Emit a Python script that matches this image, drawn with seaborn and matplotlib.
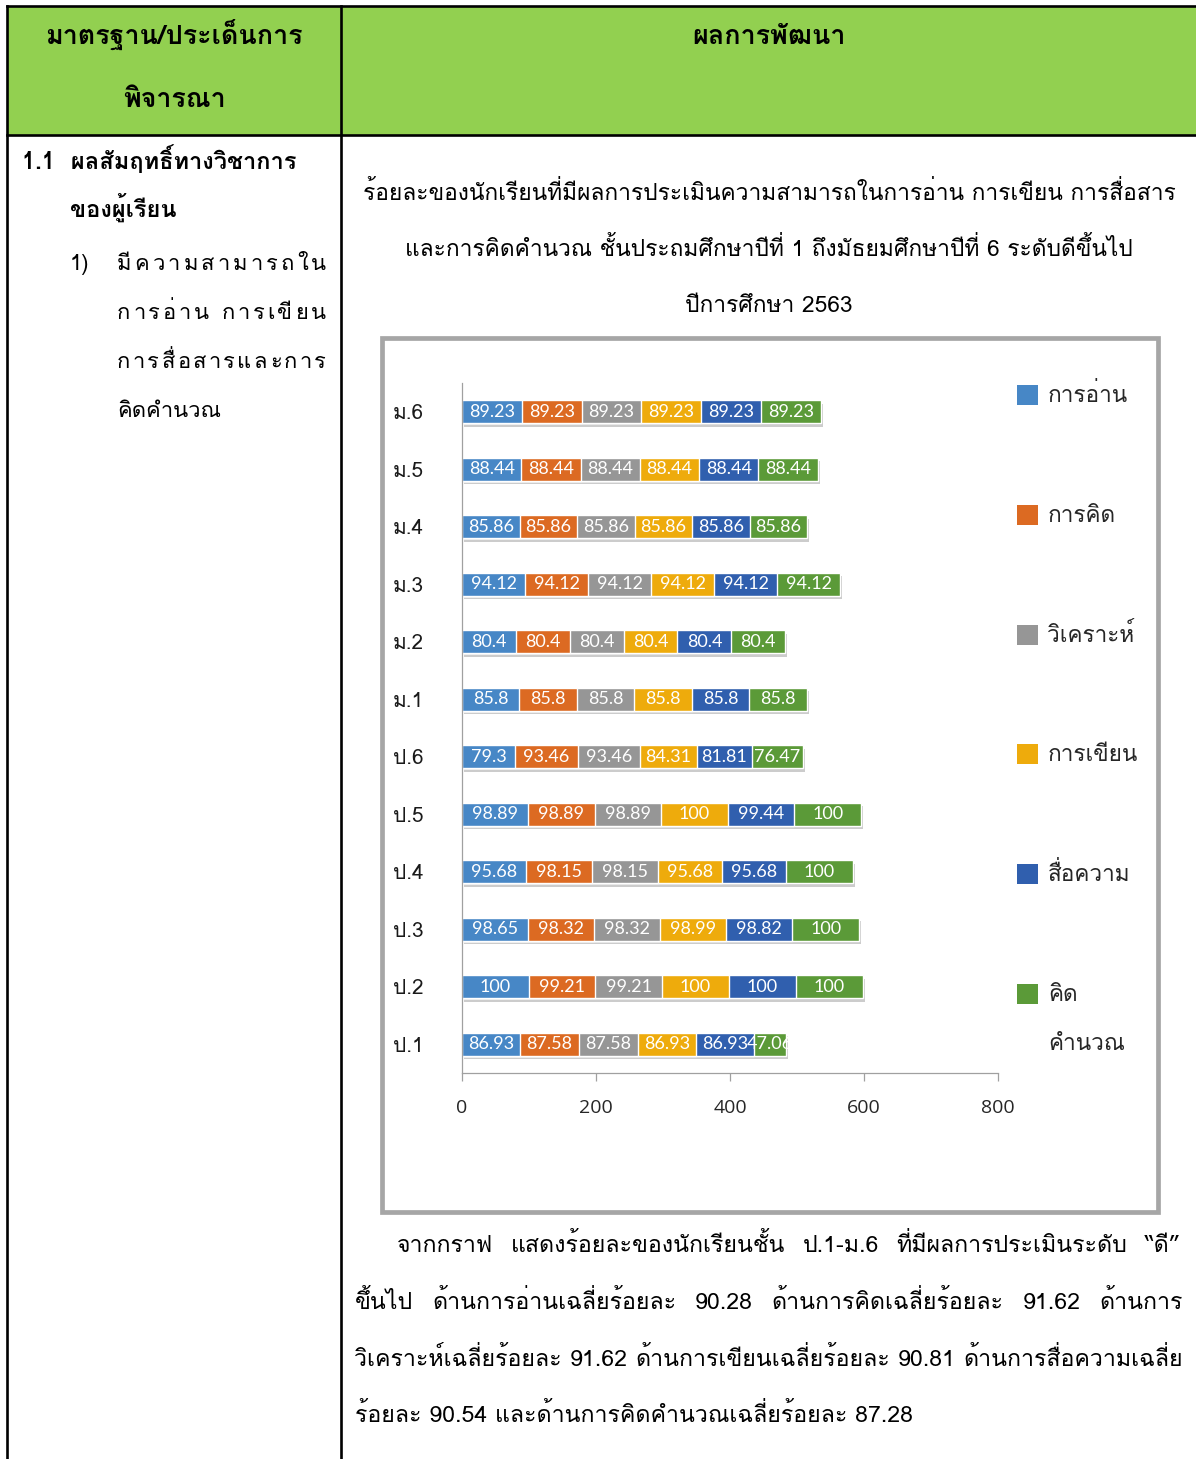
import numpy as np
import pandas as pd
import matplotlib
matplotlib.use("Agg")
import matplotlib.pyplot as plt
import matplotlib.patheffects as pe
from matplotlib.patches import Rectangle
from matplotlib.lines import Line2D
import seaborn as sns

# ---- data ----
classes = ["ป.1", "ป.2", "ป.3", "ป.4", "ป.5", "ป.6",
           "ม.1", "ม.2", "ม.3", "ม.4", "ม.5", "ม.6"]
reading = [86.93, 100, 98.65, 95.68, 98.89, 79.3, 85.8, 80.4, 94.12, 85.86, 88.44, 89.23]
thinking = [87.58, 99.21, 98.32, 98.15, 98.89, 93.46, 85.8, 80.4, 94.12, 85.86, 88.44, 89.23]
analysis = [87.58, 99.21, 98.32, 98.15, 98.89, 93.46, 85.8, 80.4, 94.12, 85.86, 88.44, 89.23]
writing = [86.93, 100, 98.99, 95.68, 100, 84.31, 85.8, 80.4, 94.12, 85.86, 88.44, 89.23]
communication = [86.93, 100, 98.82, 95.68, 99.44, 81.81, 85.8, 80.4, 94.12, 85.86, 88.44, 89.23]
calculation = [47.06, 100, 100, 100, 100, 76.47, 85.8, 80.4, 94.12, 85.86, 88.44, 89.23]
series_keys = ["reading", "thinking", "analysis", "writing", "communication", "calculation"]
series_labels = ["การอ่าน", "การคิด", "วิเคราะห์", "การเขียน", "สื่อความ", "คิด\nคำนวณ"]
series_colors = ["#4787c6", "#dc6a22", "#969696", "#eeab0c", "#305fae", "#5b9a38"]
xticks = [0, 200, 400, 600, 800]

title_lines = ["ร้อยละของนักเรียนที่มีผลการประเมินความสามารถในการอ่าน การเขียน การสื่อสาร",
               "และการคิดคำนวณ ชั้นประถมศึกษาปีที่ 1 ถึงมัธยมศึกษาปีที่ 6 ระดับดีขึ้นไป",
               "ปีการศึกษา 2563"]
para_lines = ["จากกราฟ  แสดงร้อยละของนักเรียนชั้น ป.1-ม.6 ที่มีผลการประเมินระดับ “ดี”",
              "ขึ้นไป ด้านการอ่านเฉลี่ยร้อยละ 90.28 ด้านการคิดเฉลี่ยร้อยละ 91.62 ด้านการ",
              "วิเคราะห์เฉลี่ยร้อยละ 91.62 ด้านการเขียนเฉลี่ยร้อยละ 90.81 ด้านการสื่อความเฉลี่ย",
              "ร้อยละ 90.54 และด้านการคิดคำนวณเฉลี่ยร้อยละ 87.28"]

df = pd.DataFrame({"cls": classes, "reading": reading, "thinking": thinking,
                   "analysis": analysis, "writing": writing,
                   "communication": communication, "calculation": calculation})
cum = df[series_keys].cumsum(axis=1)
cum["cls"] = df["cls"]

sns.set_theme(style="white")
plt.rcParams["font.family"] = ["Loma", "DejaVu Sans"]

W, H = 1196, 1459
fig = plt.figure(figsize=(W / 100, H / 100), dpi=100)
R = fig.canvas.get_renderer()


def fx(x):
    return x / W


def fy(y):
    return 1 - y / H


def put(x, y, s, size, family, ha="left", weight="normal", color="black"):
    return fig.text(fx(x), fy(y), s, ha=ha, va="baseline", fontsize=size,
                    family=family, weight=weight, color=color)


def width_px(s, size, family, weight="normal"):
    t = fig.text(0, 0, s, fontsize=size, family=family, weight=weight)
    w = t.get_window_extent(renderer=R).width
    t.remove()
    return w


def fit_size(s, target, family, weight="normal"):
    return 20 * target / width_px(s, 20, family, weight)


COMB = set(chr(c) for c in [0x0E31] + list(range(0x0E34, 0x0E3B)) + list(range(0x0E47, 0x0E4F)))


def clusters(s):
    out = []
    for ch in s:
        if ch in COMB and out:
            out[-1] += ch
        else:
            out.append(ch)
    return out


def spread(x0, x1, y, s, size, family, weight="normal"):
    # letter-spaced line, like the distributed text in the left column
    cl = clusters(s)
    ws = [size * 0.45 if c == " " else width_px(c, size, family, weight) for c in cl]
    gap = (x1 - x0 - sum(ws)) / (len(cl) - 1)
    x = x0
    for c, w in zip(cl, ws):
        if c != " ":
            put(x, y, c, size, family, weight=weight)
        x += w + gap


def justify(x0, x1, y, s, size, family):
    words = s.split()
    ws = [width_px(w, size, family) for w in words]
    gap = (x1 - x0 - sum(ws)) / (len(words) - 1)
    x = x0
    for w, wd in zip(words, ws):
        put(x, y, w, size, family)
        x += wd + gap


# ---- table frame ----
fig.add_artist(Rectangle((fx(7), fy(135)), fx(1196) - fx(7), fy(6) - fy(135),
                         transform=fig.transFigure, facecolor="#92d050", edgecolor="none"))
lw = 1.9
for (x0, y0, x1, y1) in [(7, 6, 1196, 6), (7, 135, 1196, 135),
                         (7, 6, 7, 1459), (341, 6, 341, 1459)]:
    fig.add_artist(Line2D([fx(x0), fx(x1)], [fy(y0), fy(y1)], transform=fig.transFigure,
                          color="black", lw=lw, solid_capstyle="projecting"))

UI = ["Loma", "DejaVu Sans"]
BODY = ["Loma", "DejaVu Sans"]

hsize = fit_size("มาตรฐาน/ประเด็นการ", 258, UI, "bold")
put(174, 44, "มาตรฐาน/ประเด็นการ", hsize, UI, ha="center", weight="bold")
put(174, 107, "พิจารณา", hsize, UI, ha="center", weight="bold")
put(769, 44, "ผลการพัฒนา", hsize, UI, ha="center", weight="bold")

bsize = fit_size("1.1  ผลสัมฤทธิ์ทางวิชาการ", 275, UI, "bold")
put(22, 169, "1.1  ผลสัมฤทธิ์ทางวิชาการ", bsize, UI, weight="bold")
put(70, 217, "ของผู้เรียน", bsize, UI, weight="bold")

lsize = fit_size("คิดคำนวณ", 104, UI)
put(70, 270, "1)", lsize, UI)
spread(117, 326, 270, "มีความสามารถใน", lsize, UI)
spread(117, 326, 319, "การอ่าน การเขียน", lsize, UI)
spread(117, 326, 368, "การสื่อสารและการ", lsize, UI)
put(117, 417, "คิดคำนวณ", lsize, UI)

# ---- chart title and text below ----
tsize = fit_size(title_lines[0], 812, BODY)
for s, y in zip(title_lines, [200, 256, 312]):
    put(769, y, s, tsize, BODY, ha="center")

psize = fit_size(para_lines[2], 828, BODY)
justify(397, 1181, 1252, para_lines[0], psize, BODY)
justify(355, 1183, 1309, para_lines[1], psize, BODY)
justify(355, 1183, 1366, para_lines[2], psize, BODY)
put(355, 1422, para_lines[3], psize, BODY)

# ---- chart box ----
fig.add_artist(Rectangle((fx(382), fy(1212)), fx(1158) - fx(382), fy(338) - fy(1212),
                         transform=fig.transFigure, fill=False, edgecolor="#a6a6a6", lw=3.4))

ax = fig.add_axes([fx(462), fy(1073), fx(998) - fx(462), fy(383) - fy(1073)])
order = classes[::-1]
for k in reversed(range(len(series_keys))):
    sns.barplot(data=cum, x=series_keys[k], y="cls", order=order, orient="h",
                color=series_colors[k], saturation=1, width=0.4, errorbar=None, ax=ax)
    if k == len(series_keys) - 1:
        for p in ax.patches:
            p.set_path_effects([pe.SimplePatchShadow(offset=(1.5, -2.5), shadow_rgbFace="k", alpha=0.22),
                                pe.Normal()])

for i, cls in enumerate(order):
    row = df[df["cls"] == cls].iloc[0]
    crow = cum[cum["cls"] == cls].iloc[0]
    for k, key in enumerate(series_keys):
        v = row[key]
        ax.text(crow[key] - v / 2, i, f"{v:g}", ha="center", va="center",
                color="white", fontsize=13, family=["Lato", "DejaVu Sans"])

ax.set_xlim(0, 800)
ax.set_ylim(11.5, -0.5)
ax.set_xticks(xticks)
ax.set_xlabel("")
ax.set_ylabel("")
for s in ["top", "right"]:
    ax.spines[s].set_visible(False)
for s in ["left", "bottom"]:
    ax.spines[s].set_color("#a0a0a0")
    ax.spines[s].set_linewidth(0.9)
ax.tick_params(axis="x", length=6, width=0.9, color="#a0a0a0", direction="out", pad=13,
               labelsize=14, labelcolor="#262626", bottom=True)
ax.tick_params(axis="y", length=0, pad=50, labelsize=15, labelcolor="#1a1a1a")
for t in ax.get_xticklabels():
    t.set_family(["Open Sans", "DejaVu Sans"])
for t in ax.get_yticklabels():
    t.set_horizontalalignment("left")
    t.set_family(UI)

# ---- legend (manual, one entry every 120 px) ----
gsize = fit_size("การอ่าน", 80, UI)
for k, (lab, col) in enumerate(zip(series_labels, series_colors)):
    yc = 395 + 119.8 * k
    fig.add_artist(Rectangle((fx(1017), fy(yc + 10)), fx(1038) - fx(1017), fy(yc - 10) - fy(yc + 10),
                             transform=fig.transFigure, facecolor=col, edgecolor="none"))
    for j, part in enumerate(lab.split("\n")):
        put(1048, yc + 7 + 49 * j, part, gsize, UI, color="#262626")

fig.savefig("out.png", dpi=100)
